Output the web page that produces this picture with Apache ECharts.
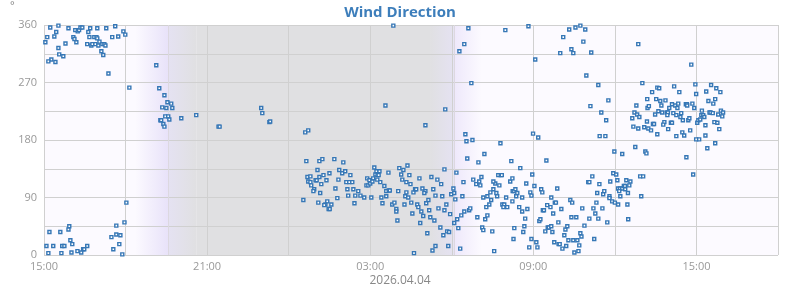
<!DOCTYPE html>
<html>
<head>
<meta charset="utf-8">
<script src="https://cdn.jsdelivr.net/npm/echarts@6/dist/echarts.min.js"></script>
<style>
html,body{margin:0;padding:0;background:#fff;}
#chart{width:800px;height:290px;}
</style>
</head>
<body>
<div id="chart"></div>
<script>
// Hours since 15:00 (start of the window) and wind direction in degrees
const samples = [
[0.23,356],[0.53,359],[0.90,355],[1.15,352],[1.24,350],[1.29,352],[1.34,356],[1.41,356],[1.70,355],[1.96,355],
[2.29,355],[2.62,358],[2.92,350],[2.99,345],[0.45,349],[0.12,341],[0.38,342],[0.05,333],[0.53,324],[0.79,331],
[1.08,341],[1.12,338],[1.19,333],[1.63,349],[1.67,341],[1.85,341],[1.93,341],[1.96,339],[2.04,334],[1.59,330],
[1.74,328],[1.78,330],[1.89,330],[2.00,328],[2.15,330],[2.22,330],[2.26,328],[2.51,341],[2.73,342],[2.11,319],
[2.18,313],[0.56,314],[0.71,311],[0.27,306],[0.16,303],[0.42,302],[2.37,284],[4.13,297],[3.14,262],[4.24,261],
[4.43,250],[4.54,239],[4.68,237],[4.35,231],[4.50,230],[4.72,230],[4.46,217],[4.57,217],[4.61,212],[5.05,214],
[5.60,219],[4.28,211],[4.31,211],[4.39,205],[4.43,201],[6.42,201],[6.46,201],[3.03,82],[2.96,51],[2.66,46],
[0.93,45],[0.90,40],[0.20,36],[0.60,36],[2.48,28],[2.66,32],[2.81,31],[0.97,23],[2.77,17],[1.04,17],
[0.09,14],[0.34,14],[0.67,14],[0.75,14],[1.59,14],[2.55,9],[1.44,9],[1.48,9],[1.23,6],[1.37,4],
[1.01,4],[0.16,3],[0.64,3],[2.88,1],
[12.85,359],[7.99,230],[8.03,222],[8.29,208],[8.32,209],[9.61,192],[9.72,195],[12.56,234],[9.65,147],[10.13,147],
[10.24,150],[10.68,150],[11.01,145],[9.69,122],[9.80,123],[10.06,133],[9.72,115],[9.80,114],[9.83,109],[10.13,122],
[10.28,125],[10.50,128],[10.39,117],[10.20,111],[9.99,117],[10.03,117],[9.94,103],[9.91,100],[10.16,97],[9.54,86],
[10.09,82],[10.42,84],[10.35,79],[10.31,78],[10.57,79],[10.47,72],[10.51,72],[10.72,104],[10.79,89],[10.86,133],
[10.97,128],[11.08,131],[11.27,125],[10.83,118],[11.12,114],[11.23,114],[11.34,114],[11.16,103],[11.38,103],[11.19,93],
[11.45,93],[11.56,100],[11.64,93],[11.42,81],[11.78,90],[12.04,90],[11.89,120],[11.97,117],[12.11,120],[11.86,109],
[11.93,109],[12.00,112],[12.08,115],[12.15,137],[12.23,131],[12.34,131],[12.19,126],[12.27,125],[12.31,125],[12.26,118],
[12.37,114],[12.52,108],[12.67,129],[12.41,90],[12.45,81],[12.59,100],[12.59,92],[12.68,101],[12.72,101],[12.81,79],
[12.89,82],[12.96,72],[12.96,68],[13.00,54],[13.03,100],[13.07,136],[13.22,133],[13.37,140],[13.14,126],[13.44,125],
[13.18,118],[13.33,114],[13.48,111],[13.33,98],[13.59,98],[13.29,92],[13.40,90],[13.26,79],[13.51,82],[13.55,65],
[13.61,3],
[15.61,355],[16.97,352],[17.82,358],[15.46,330],[15.28,319],[15.72,269],[14.76,228],[14.03,203],[15.50,189],[15.76,180],
[15.54,178],[16.79,175],[16.20,158],[15.57,151],[15.98,145],[17.19,147],[17.99,190],[18.18,184],[18.07,306],[18.48,148],
[17.52,136],[17.96,126],[14.73,134],[15.17,129],[13.81,120],[14.25,122],[14.47,118],[14.61,111],[13.92,104],[14.32,103],
[14.03,100],[13.99,97],[13.65,103],[13.69,103],[14.40,93],[14.65,92],[14.98,95],[15.06,104],[15.09,97],[15.13,87],
[14.14,86],[14.06,81],[13.73,79],[14.80,79],[13.77,75],[14.51,73],[14.73,70],[14.17,70],[13.88,68],[14.94,64],
[13.95,61],[14.21,59],[14.36,54],[13.84,50],[15.09,50],[14.58,43],[14.83,37],[14.90,36],[14.69,31],[14.10,34],
[15.24,42],[15.20,56],[15.35,62],[15.46,68],[15.64,70],[15.68,73],[15.39,92],[15.43,114],[15.79,118],[15.90,111],
[16.01,115],[16.05,109],[16.09,122],[16.16,90],[16.31,92],[16.27,75],[16.38,79],[16.45,86],[16.42,98],[16.53,103],
[16.64,97],[16.67,92],[16.60,112],[16.53,115],[16.75,109],[16.71,125],[16.80,125],[16.84,125],[16.86,79],[16.93,79],
[16.90,75],[17.04,75],[17.00,90],[17.23,84],[17.15,115],[17.23,120],[17.24,100],[17.28,100],[17.34,103],[17.41,97],
[17.37,92],[17.48,75],[17.59,68],[17.78,72],[17.59,90],[17.74,112],[17.89,98],[17.93,93],[18.04,108],[16.31,62],
[16.23,56],[15.94,59],[16.12,43],[16.16,39],[16.49,37],[16.56,6],[15.31,10],[14.87,14],[14.40,14],[14.29,7],
[17.30,42],[17.27,25],[17.63,36],[17.67,45],[17.70,57],[17.85,12],[17.93,25],[18.11,20],[18.15,12],[18.22,53],
[18.26,56],[18.29,103],[18.33,98],[18.35,70],[18.39,70],[18.44,37],[18.51,78],[18.53,43],[18.57,43],[18.63,75],
[18.66,45],[18.66,90],[18.70,36],[18.73,65],[18.79,82],[18.83,82],[18.88,104],[18.92,51],[19.03,72],[18.77,20],
[18.93,17],[18.97,17],[19.07,10],[19.14,31],[19.18,40],[19.21,14],[19.25,45],[19.29,23],[19.36,86],[19.43,82],
[19.40,59],[19.47,23],[19.51,4],[19.58,59],[19.62,23],[19.66,6],[19.69,15],[19.73,34],[19.77,29],[19.80,73],
[19.88,46],[20.06,57],[20.02,114],[20.06,114],[20.17,123],[20.21,73],[20.24,25],[20.28,65],[20.32,82],[20.35,97],
[20.39,57],[20.43,111],[20.44,186],[20.39,266],[20.10,233],[19.95,281],[20.13,317],[19.84,334],[18.99,316],[19.47,316],
[19.40,322],[19.10,341],[19.32,353],[19.55,356],[19.73,359],[19.91,353],
[21.86,330],[23.81,298],[22.01,269],[20.76,242],[20.50,223],[20.68,211],[20.65,186],[21.79,234],[21.72,223],[21.82,220],
[21.90,216],[21.64,214],[21.68,201],[21.86,198],[22.08,200],[22.23,198],[22.33,195],[22.18,209],[22.40,205],[22.44,205],
[22.56,189],[22.20,230],[22.25,233],[22.19,244],[22.37,255],[22.56,262],[22.63,261],[22.52,244],[22.67,241],[22.86,242],
[22.71,234],[22.48,220],[22.60,225],[22.74,223],[22.91,223],[22.95,223],[22.93,219],[23.00,230],[22.82,208],[22.78,204],
[22.96,197],[23.06,207],[23.10,207],[23.18,264],[23.37,255],[23.10,236],[23.22,234],[23.33,237],[23.15,222],[23.26,219],
[23.30,230],[23.44,222],[23.41,216],[23.50,211],[23.61,236],[23.65,236],[23.66,234],[23.70,211],[23.74,214],[23.48,192],
[23.55,187],[23.26,186],[23.77,195],[23.85,237],[23.92,230],[23.96,267],[23.99,252],[24.03,207],[23.99,181],[24.10,181],
[23.63,153],[23.88,126],[24.20,226],[24.18,219],[24.25,219],[24.29,216],[24.07,211],[24.14,212],[24.33,203],[24.36,256],
[24.54,266],[24.44,241],[24.62,237],[24.69,244],[24.73,261],[24.88,255],[24.48,223],[24.52,223],[24.60,222],[24.80,220],
[24.90,226],[24.98,223],[24.95,217],[24.66,208],[24.77,207],[24.84,197],[24.33,187],[24.69,175],[24.40,167],[21.75,169],
[22.12,162],[22.16,159],[20.98,162],[21.27,158],[20.94,128],[21.05,126],[21.93,123],[22.04,123],[20.83,115],[21.09,117],
[21.42,117],[21.57,115],[21.53,109],[20.61,100],[20.57,95],[20.80,92],[20.80,89],[21.12,104],[21.19,104],[21.27,104],
[21.33,108],[21.37,108],[21.38,103],[21.16,100],[21.48,97],[21.20,92],[21.97,92],[20.90,84],[21.00,82],[21.12,79],
[21.46,79],[20.54,73],[21.49,56],[20.72,51]
];

const startHour = 15;                       // window starts at 15:00
const hourRange = [0, 27];                  // 15:00 .. 18:00 next day
const directionTicks = [0, 90, 180, 270, 360];
// dusk fade start, sunset, dusk end, dawn start, sunrise, dawn fade end (hours since start)
const twilight = [3.35, 4.57, 5.6, 14.2, 15.08, 16.1];
const titleText = 'Wind Direction';
const dateText = '2026.04.04';
const unitText = '°';

const BG = '#fcfaff', LAV = '#e8e2f9', LAV2 = '#e5e2f2', NIGHT = '#e0e0e2', LAV3 = '#eee8fb';
const bandDefs = [
  [twilight[0], twilight[1], BG, LAV],
  [twilight[1], twilight[2], LAV2, NIGHT],
  [twilight[2], twilight[3], NIGHT, NIGHT],
  [twilight[3], twilight[4], NIGHT, LAV2],
  [twilight[4], twilight[5], LAV3, BG]
];

const chart = echarts.init(document.getElementById('chart'), null, {renderer: 'canvas'});
const pad = n => (n < 10 ? '0' : '') + n;

chart.setOption({
  animation: false,
  backgroundColor: '#ffffff',
  title: {
    text: titleText, left: 'center', top: 0,
    textStyle: {color: '#3d7ebb', fontSize: 15, fontWeight: 'bold', fontFamily: 'Open Sans'}
  },
  graphic: [
    {type: 'text', left: 10, top: 0, style: {text: unitText, fill: '#888', font: '11px "Open Sans"'}},
    {type: 'text', left: 'center', top: 275, style: {text: dateText, fill: '#888', font: '12px "Open Sans"'}}
  ],
  grid: {left: 44, right: 22, top: 25, bottom: 35, show: true, backgroundColor: BG, borderWidth: 0},
  xAxis: {
    type: 'value', min: hourRange[0], max: hourRange[1], interval: 3, z: 3,
    axisLine: {show: false}, axisTick: {show: false},
    splitLine: {show: true, lineStyle: {color: '#d0d0d0', width: 1}},
    axisLabel: {
      color: '#999', fontSize: 11, fontFamily: 'Open Sans', margin: 6,
      formatter: v => (v % 6 === 0 ? pad((startHour + v) % 24) + ':00' : '')
    }
  },
  yAxis: {
    type: 'value', min: 0, max: 360, interval: 45, z: 3,
    axisLine: {show: false}, axisTick: {show: false},
    splitLine: {show: true, lineStyle: {color: '#d0d0d0', width: 1}},
    axisLabel: {
      color: '#999', fontSize: 11, fontFamily: 'Open Sans', margin: 7,
      formatter: v => (directionTicks.indexOf(v) >= 0 ? String(v) : '')
    }
  },
  series: [
    {
      type: 'custom', z: 1, silent: true,
      data: bandDefs.map((b, i) => [b[0], b[1], i]),
      encode: {x: [0, 1]},
      renderItem: function (params, api) {
        const b = bandDefs[api.value(2)];
        const p0 = api.coord([api.value(0), 360]);
        const p1 = api.coord([api.value(1), 0]);
        return {
          type: 'rect',
          shape: {x: p0[0], y: p0[1], width: p1[0] - p0[0], height: p1[1] - p0[1]},
          style: {fill: new echarts.graphic.LinearGradient(0, 0, 1, 0, [
            {offset: 0, color: b[2]}, {offset: 1, color: b[3]}])}
        };
      }
    },
    {
      type: 'custom', z: 4, silent: true,
      data: [[twilight[1]], [twilight[4]]],
      encode: {x: 0},
      renderItem: function (params, api) {
        const p0 = api.coord([api.value(0), 360]);
        const p1 = api.coord([api.value(0), 0]);
        const x = Math.round(p0[0]) + 0.5;
        return {type: 'line', shape: {x1: x, y1: p0[1], x2: x, y2: p1[1]},
          style: {stroke: '#dcd8e0', lineWidth: 1}};
      }
    },
    {
      type: 'scatter', z: 5,
      data: samples,
      symbol: 'rect', symbolSize: 3,
      itemStyle: {color: '#ffffff', borderColor: '#3677b6', borderWidth: 1.4, opacity: 1}
    }
  ]
});
</script>
</body>
</html>
